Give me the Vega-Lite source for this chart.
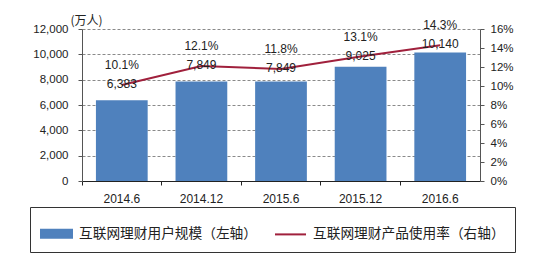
{
  "$schema": "https://vega.github.io/schema/vega-lite/v6.json",
  "width": 398,
  "height": 152,
  "autosize": "none",
  "padding": {"left": 82, "top": 29, "right": 53, "bottom": 76},
  "background": "white",
  "data": {"values": [
    {"period": "2014.6", "users": 6383, "rate": 0.101},
    {"period": "2014.12", "users": 7849, "rate": 0.121},
    {"period": "2015.6", "users": 7849, "rate": 0.118},
    {"period": "2015.12", "users": 9025, "rate": 0.131},
    {"period": "2016.6", "users": 10140, "rate": 0.143}
  ]},
  "config": {
    "view": {"stroke": null},
    "font": "Liberation Sans",
    "axis": {"labelFont": "Liberation Sans", "labelFontSize": 11.5, "labelColor": "#222", "domainColor": "#555", "tickColor": "#555", "tickSize": 4}
  },
  "encoding": {
    "x": {"field": "period", "type": "ordinal", "sort": null,
      "scale": {"paddingInner": 0.35, "paddingOuter": 0.175},
      "axis": {"title": null, "labelAngle": 0, "bandPosition": -0.268, "labelOffset": 0, "labelPadding": 8, "domainColor": "#222", "tickColor": "#222", "labelFontSize": 12}
    }
  },
  "layer": [
    {
      "mark": {"type": "bar", "color": "#4F81BD"},
      "encoding": {
        "y": {"field": "users", "type": "quantitative",
          "scale": {"domain": [0, 12000], "nice": false},
          "axis": {"title": "(万人)", "titleAngle": 0, "titleX": 4, "titleY": -9, "titleAlign": "center", "titleBaseline": "middle", "titleFont": "Noto Sans CJK SC", "titleFontSize": 12, "titleFontWeight": "normal", "titleColor": "#222",
            "values": [0, 2000, 4000, 6000, 8000, 10000, 12000], "labelExpr": "format(datum.value, ',')", "labelPadding": 10, "grid": true, "gridDash": [3, 2], "gridColor": "#8a8a8a"}
        },
        "color": {"datum": "互联网理财用户规模（左轴）", "type": "nominal",
          "scale": {"domain": ["互联网理财用户规模（左轴）", "互联网理财产品使用率（右轴）"], "range": ["#4F81BD", "#A0203C"]},
          "legend": {
            "title": null, "orient": "none", "legendX": -52, "legendY": 178, "direction": "horizontal", "columns": 2,
            "strokeColor": "#333", "padding": 10, "fillColor": "white",
            "labelFont": "Noto Sans CJK SC", "labelFontSize": 13.7, "labelColor": "#222", "labelLimit": 400, "labelOffset": 6,
            "columnPadding": 14, "symbolSize": 961,
            "encode": {"symbols": {"update": {
              "shape": {"signal": "datum.value === '互联网理财产品使用率（右轴）' ? 'stroke' : 'M-1,-0.26H1V0.26H-1Z'"},
              "fill": {"signal": "datum.value === '互联网理财产品使用率（右轴）' ? 'transparent' : '#4F81BD'"},
              "stroke": {"signal": "datum.value === '互联网理财产品使用率（右轴）' ? '#A0203C' : 'transparent'"},
              "strokeWidth": {"value": 2},
              "opacity": {"value": 1}
            }}}
          }
        }
      }
    },
    {
      "encoding": {
        "y": {"field": "rate", "type": "quantitative",
          "scale": {"domain": [0, 0.16], "nice": false},
          "axis": {"title": null, "orient": "right", "values": [0, 0.02, 0.04, 0.06, 0.08, 0.1, 0.12, 0.14, 0.16], "format": ".0%", "labelPadding": 6, "grid": false}
        }
      },
      "layer": [
        {
          "mark": {"type": "line", "strokeWidth": 2},
          "encoding": {
            "color": {"datum": "互联网理财产品使用率（右轴）", "type": "nominal"}
          }
        },
        {
          "mark": {"type": "text", "fontSize": 12, "color": "#222", "baseline": "middle", "dy": -1},
          "encoding": {
            "text": {"field": "users", "type": "quantitative", "format": ","}
          }
        },
        {
          "mark": {"type": "text", "fontSize": 12, "color": "#222", "baseline": "middle", "dy": -20},
          "encoding": {
            "text": {"field": "rate", "type": "quantitative", "format": ".1%"}
          }
        }
      ]
    }
  ],
  "resolve": {"scale": {"y": "independent"}}
}
